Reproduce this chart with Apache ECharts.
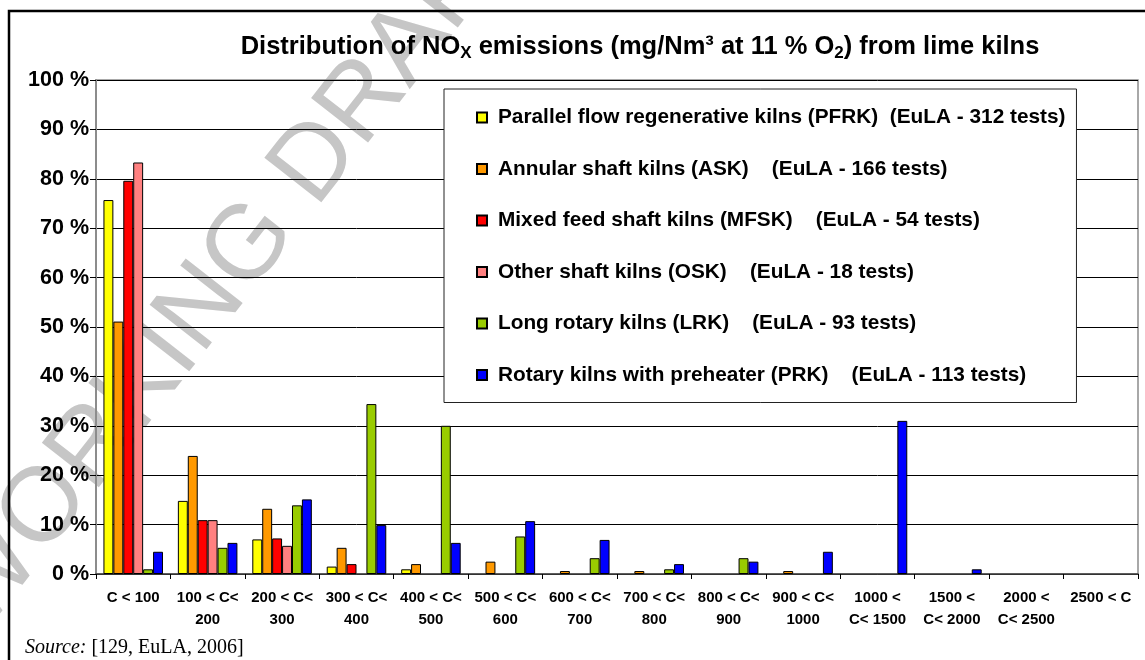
<!DOCTYPE html>
<html>
<head>
<meta charset="utf-8">
<script src="https://cdn.jsdelivr.net/npm/echarts@6/dist/echarts.min.js"></script>
<style>
html,body{margin:0;padding:0;background:#fff;}
#chart{width:1145px;height:660px;}
</style>
</head>
<body>
<div id="chart"></div>
<script>
// ---- data ----
const categories = ['C < 100', '100 < C<\n200', '200 < C<\n300', '300 < C<\n400', '400 < C<\n500',
  '500 < C<\n600', '600 < C<\n700', '700 < C<\n800', '800 < C<\n900', '900 < C<\n1000',
  '1000 <\nC< 1500', '1500 <\nC< 2000', '2000 <\nC< 2500', '2500 < C'];
const seriesNames = [
  'Parallel flow regenerative kilns (PFRK)  (EuLA - 312 tests)',
  'Annular shaft kilns (ASK)    (EuLA - 166 tests)',
  'Mixed feed shaft kilns (MFSK)    (EuLA - 54 tests)',
  'Other shaft kilns (OSK)    (EuLA - 18 tests)',
  'Long rotary kilns (LRK)    (EuLA - 93 tests)',
  'Rotary kilns with preheater (PRK)    (EuLA - 113 tests)'
];
const pfrk = [75.7, 14.8, 7.0, 1.5, 0.95, null, null, null, null, null, null, null, null, null];
const ask  = [51.1, 23.9, 13.2, 5.3, 2.0, 2.5, 0.6, 0.6, null, 0.6, null, null, null, null];
const mfsk = [79.6, 10.9, 7.2, 2.0, null, null, null, null, null, null, null, null, null, null];
const osk  = [83.3, 10.9, 5.7, null, null, null, null, null, null, null, null, null, null, null];
const lrk  = [0.95, 5.3, 13.9, 34.4, 30.0, 7.6, 3.2, 0.95, 3.2, null, null, null, null, null];
const prk  = [4.5, 6.3, 15.1, 9.9, 6.3, 10.7, 6.9, 2.0, 2.5, 4.5, 31.0, 0.95, null, null];
const yTicks = [0, 10, 20, 30, 40, 50, 60, 70, 80, 90, 100];
const colors = ['#FFFF00', '#FF9900', '#FF0000', '#FF8080', '#99CC00', '#0000FF'];

const allData = [pfrk, ask, mfsk, osk, lrk, prk];
const FONT = "'Liberation Sans', Arial, sans-serif";

const chart = echarts.init(document.getElementById('chart'), null, {renderer: 'canvas'});
chart.setOption({
  animation: false,
  backgroundColor: '#fff',
  textStyle: {fontFamily: FONT},
  graphic: [
    {
      type: 'text', z: -10, zlevel: 0, silent: true,
      x: 234, y: 267, rotation: 52 * Math.PI / 180,
      style: {text: 'WORKING DRAFT', fontFamily: FONT, fontSize: 105, fill: '#c6c6c6',
        align: 'center', verticalAlign: 'middle'}
    },
    {
      type: 'text', silent: true, z: 50,
      x: 640, y: 47,
      style: {
        text: 'Distribution of NO{sub|X} emissions (mg/Nm³ at 11 % O{sub|2}) from lime kilns',
        fontFamily: FONT, fontWeight: 'bold', fontSize: 25.5, fill: '#000',
        align: 'center', verticalAlign: 'middle',
        rich: {
          sub: {fontFamily: FONT, fontWeight: 'bold', fontSize: 17, fill: '#000', padding: [12, 0, 0, 0]}
        }
      }
    },
    {
      type: 'rect', silent: true, z: 100,
      shape: {x: 9, y: 11, width: 1200, height: 700},
      style: {fill: 'none', stroke: '#000', lineWidth: 2.5}
    },
    {
      type: 'text', left: 25, top: 638, silent: true,
      style: {
        text: '{i|Source:} [129, EuLA, 2006]',
        fontFamily: "'Liberation Serif', 'Times New Roman', serif", fontSize: 20, fill: '#000',
        rich: {i: {fontFamily: "'Liberation Serif', 'Times New Roman', serif", fontStyle: 'italic', fontSize: 20, fill: '#000'}}
      }
    }
  ],
  legend: {
    orient: 'vertical',
    left: 444,
    top: 89,
    padding: [18, 11, 17, 32],
    itemWidth: 10,
    itemHeight: 10,
    itemGap: 30.5,
    backgroundColor: '#fff',
    borderColor: '#222',
    borderWidth: 1,
    icon: 'rect',
    textStyle: {fontFamily: FONT, fontWeight: 'bold', fontSize: 20.8, color: '#000', padding: [0, 0, 0, 6]},
    data: seriesNames
  },
  grid: {
    left: 96, right: 7, top: 80, bottom: 86,
    show: true, borderColor: '#8c8c8c', borderWidth: 1.5, backgroundColor: 'transparent'
  },
  xAxis: {
    type: 'category',
    data: categories,
    axisLine: {show: true, lineStyle: {color: '#444', width: 1.5}},
    axisTick: {show: true, interval: 0, length: 5, lineStyle: {color: '#000'}},
    axisLabel: {interval: 0, fontFamily: FONT, fontWeight: 'bold', fontSize: 15, color: '#000',
      lineHeight: 22, margin: 13}
  },
  yAxis: {
    type: 'value',
    min: yTicks[0], max: yTicks[yTicks.length - 1], interval: 10,
    axisLine: {show: true, lineStyle: {color: '#8c8c8c', width: 2}},
    axisTick: {show: true, length: 6, lineStyle: {color: '#000'}},
    axisLabel: {formatter: '{value} %', fontFamily: FONT, fontWeight: 'bold', fontSize: 21.5, color: '#000', margin: 7},
    splitLine: {show: true, lineStyle: {color: '#000', width: 1}}
  },
  series: seriesNames.map((n, i) => ({
    name: n,
    type: 'bar',
    data: allData[i],
    barGap: '0%',
    barCategoryGap: '20%',
    itemStyle: {color: colors[i], borderColor: '#000', borderWidth: 1}
  }))
});
</script>
</body>
</html>
